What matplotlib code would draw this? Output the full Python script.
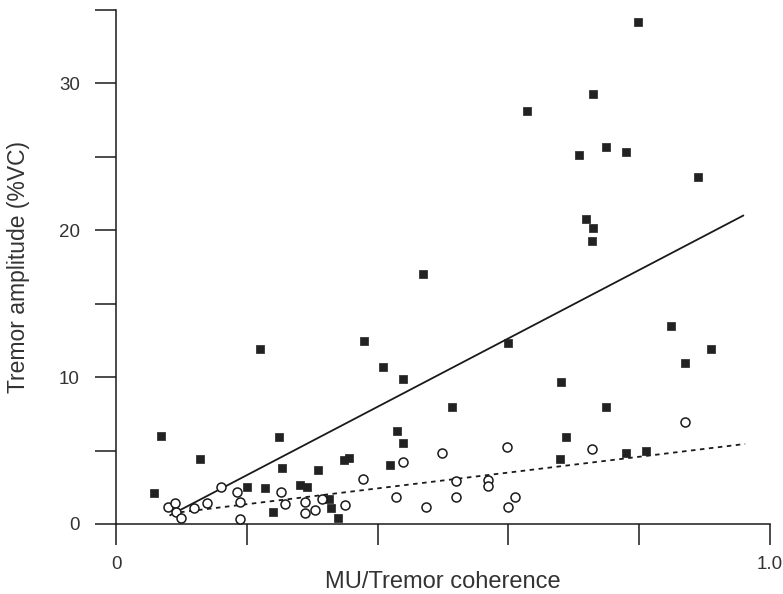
import matplotlib
matplotlib.use('Agg')
import matplotlib.pyplot as plt

# filled squares
sq_x = [0.058, 0.069, 0.128, 0.200, 0.220, 0.228, 0.240, 0.249, 0.254, 0.281,
        0.292, 0.309, 0.326, 0.329, 0.339, 0.349, 0.356, 0.379, 0.408, 0.419,
        0.430, 0.439, 0.439, 0.469, 0.514, 0.599, 0.628, 0.679, 0.688, 0.680,
        0.708, 0.719, 0.729, 0.728, 0.729, 0.749, 0.780, 0.749, 0.780, 0.798,
        0.810, 0.849, 0.870, 0.890, 0.910]
sq_y = [2.1, 6.0, 4.4, 2.5, 11.9, 2.45, 0.8, 5.9, 3.8, 2.65,
        2.5, 3.7, 1.7, 1.1, 0.4, 4.35, 4.5, 12.45, 10.7, 4.0,
        6.3, 5.5, 9.85, 17.05, 7.95, 12.3, 28.1, 4.4, 5.9, 9.65,
        25.1, 20.8, 20.15, 19.3, 29.3, 25.7, 25.3, 8.0, 4.85, 34.15,
        4.95, 13.45, 10.95, 23.65, 11.9]

# open circles
ci_x = [0.080, 0.090, 0.092, 0.099, 0.119, 0.139, 0.161, 0.185, 0.190, 0.190,
        0.252, 0.258, 0.289, 0.289, 0.304, 0.315, 0.350, 0.378, 0.428, 0.439,
        0.474, 0.498, 0.520, 0.520, 0.569, 0.569, 0.598, 0.599, 0.610, 0.728,
        0.870]
ci_y = [1.15, 1.45, 0.8, 0.4, 1.1, 1.45, 2.5, 2.2, 1.5, 0.35,
        2.2, 1.35, 1.5, 0.75, 0.95, 1.7, 1.3, 3.05, 1.85, 4.2,
        1.15, 4.85, 2.95, 1.85, 3.0, 2.6, 5.25, 1.15, 1.85, 5.1,
        6.95]

# regression lines (end points)
fit_sq_x = [0.083, 0.959]
fit_sq_y = [0.6, 21.0]
fit_ci_x = [0.098, 0.962]
fit_ci_y = [0.8, 5.45]

xticks = [0, 0.2, 0.4, 0.6, 0.8, 1.0]
xticklabels = ['0', '', '', '', '', '1.0']
yticks = [0, 5, 10, 15, 20, 25, 30, 35]
yticklabels = ['0', '', '10', '', '20', '', '30', '']

plt.rcParams['font.family'] = ['Liberation Sans', 'DejaVu Sans']
txt = '#333333'
ink = '#1a1a1a'

fig = plt.figure(figsize=(7.83, 5.94), dpi=100)
ax = fig.add_axes([116/783, 70/594, 654/783, 514/594])

ax.plot(fit_sq_x, fit_sq_y, '-', color=ink, lw=1.3, zorder=2)
ax.plot(fit_ci_x, fit_ci_y, color=ink, lw=1.3, dashes=(2.5, 2.5), zorder=2)
ax.scatter(sq_x, sq_y, marker='s', s=32, c='#222222', edgecolors='#222222',
           linewidths=0.5, zorder=3)
ax.scatter(ci_x, ci_y, marker='o', s=42, facecolors='white', edgecolors=ink,
           linewidths=1.1, zorder=3)

ax.set_xlim(0, 1.0)
ax.set_ylim(0, 35)
ax.set_xticks(xticks)
ax.set_xticklabels(xticklabels)
ax.set_yticks(yticks)
ax.set_yticklabels(yticklabels)

for s in ['top', 'right']:
    ax.spines[s].set_visible(False)
for s in ['left', 'bottom']:
    ax.spines[s].set_color(ink)
    ax.spines[s].set_linewidth(1.1)

ax.tick_params(axis='both', direction='out', length=15, width=1.1, color=ink,
               labelsize=13.5, labelcolor=txt)
ax.tick_params(axis='x', pad=8)
ax.tick_params(axis='y', pad=11)

ax.set_xlabel('MU/Tremor coherence', fontsize=17, color=txt)
ax.xaxis.label.set_va('baseline')
ax.xaxis.set_label_coords(0.5, -(588 - 524) / 514)
ax.set_ylabel('Tremor amplitude (%VC)', fontsize=16.5, color=txt, labelpad=21)

fig.savefig('out.png', dpi=100)
